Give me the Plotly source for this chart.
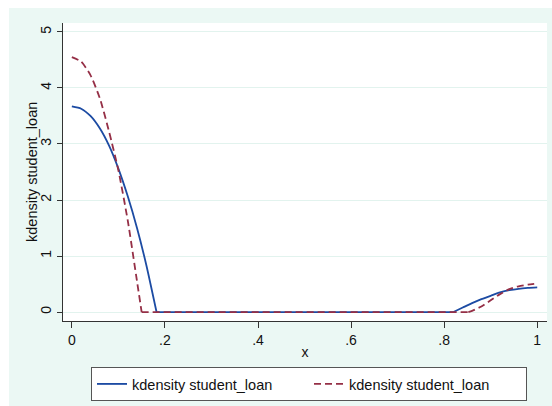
import plotly.graph_objects as go

# Kernel density estimates of student_loan, read at a set of x positions.
# Each curve is a left hump, a flat zero stretch and a right hump; None separates them
# so every piece can be smoothed on its own.
x_blue = [0.0, 0.02, 0.04, 0.06, 0.08, 0.10, 0.12, 0.14, 0.16, 0.182, None,
          0.182, 0.82, None,
          0.82, 0.84, 0.86, 0.88, 0.90, 0.92, 0.94, 0.96, 0.98, 1.0]
y_blue = [3.67, 3.63, 3.50, 3.28, 2.97, 2.56, 2.07, 1.50, 0.84, 0.0, None,
          0.0, 0.0, None,
          0.0, 0.08, 0.16, 0.23, 0.29, 0.35, 0.39, 0.415, 0.43, 0.44]

x_red = [0.0, 0.02, 0.04, 0.06, 0.08, 0.10, 0.12, 0.14, 0.15, None,
         0.15, 0.852, None,
         0.852, 0.86, 0.88, 0.90, 0.92, 0.94, 0.96, 0.98, 1.0]
y_red = [4.55, 4.47, 4.23, 3.82, 3.22, 2.53, 1.64, 0.55, 0.0, None,
         0.0, 0.0, None,
         0.0, 0.02, 0.10, 0.21, 0.32, 0.41, 0.46, 0.49, 0.51]

series_names = ["kdensity student_loan", "kdensity student_loan"]
y_title = "kdensity student_loan"

x_ticks = [0, 0.2, 0.4, 0.6, 0.8, 1]
x_ticklabels = ["0", ".2", ".4", ".6", ".8", "1"]
y_ticks = [0, 1, 2, 3, 4, 5]

BLUE = "#1c4ba3"
MAROON = "#952f46"
MINT = "#ebf8f4"
GRID = "#e2f3ee"
FONT = "Liberation Sans, Arial, sans-serif"

fig = go.Figure()
fig.add_trace(go.Scatter(x=x_blue, y=y_blue, mode="lines", name=series_names[0],
                         connectgaps=False,
                         line=dict(color=BLUE, width=1.8, shape="spline", smoothing=0.6)))
fig.add_trace(go.Scatter(x=x_red, y=y_red, mode="lines", name=series_names[1],
                         connectgaps=False,
                         line=dict(color=MAROON, width=1.8, dash="7px,4px",
                                   shape="spline", smoothing=0.6)))

W, H = 552, 406
ml, mr, mt, mb = 63, 5, 23, 85
pw, ph = W - ml - mr, H - mt - mb

def px_to_paper_x(px):
    return (px - ml) / pw

def px_to_paper_y(py):
    return (H - mb - py) / ph

shapes = [
    # graph region background
    dict(type="rect", xref="paper", yref="paper", layer="below",
         x0=px_to_paper_x(9), x1=px_to_paper_x(W + 2),
         y0=px_to_paper_y(H + 2), y1=px_to_paper_y(8),
         fillcolor=MINT, line=dict(width=0)),
    # plot region
    dict(type="rect", xref="paper", yref="paper", layer="below",
         x0=0, x1=1, y0=0, y1=1, fillcolor="white", line=dict(width=0)),
]

fig.update_layout(
    width=W, height=H,
    margin=dict(l=ml, r=mr, t=mt, b=mb, autoexpand=False),
    paper_bgcolor="white", plot_bgcolor="white",
    font=dict(family=FONT, size=14, color="#111111"),
    shapes=shapes,
    annotations=[dict(text=y_title, textangle=-90, showarrow=False,
                      xref="paper", yref="paper",
                      x=px_to_paper_x(32), y=0.5, xanchor="center", yanchor="middle",
                      font=dict(size=14.5))],
    showlegend=True,
    legend=dict(orientation="h", x=px_to_paper_x(91), xanchor="left",
                y=px_to_paper_y(367), yanchor="top",
                bgcolor="white", bordercolor="#555555", borderwidth=1,
                font=dict(size=14.5), entrywidth=172, entrywidthmode="pixels",
                traceorder="normal"),
    xaxis=dict(range=[-0.019, 1.021], tickvals=x_ticks, ticktext=x_ticklabels,
               showgrid=False, zeroline=False, showline=True, linecolor="#333333",
               linewidth=1, ticks="outside", ticklen=6, tickcolor="#333333",
               title=dict(text="x", standoff=0, font=dict(size=14))),
    yaxis=dict(range=[-0.16, 5.16], tickvals=y_ticks, tickangle=-90,
               showgrid=True, gridcolor=GRID, gridwidth=1, zeroline=False,
               showline=True, linecolor="#333333", linewidth=1,
               ticks="outside", ticklen=5, tickcolor="#333333"),
)

fig.write_html("out.html")
